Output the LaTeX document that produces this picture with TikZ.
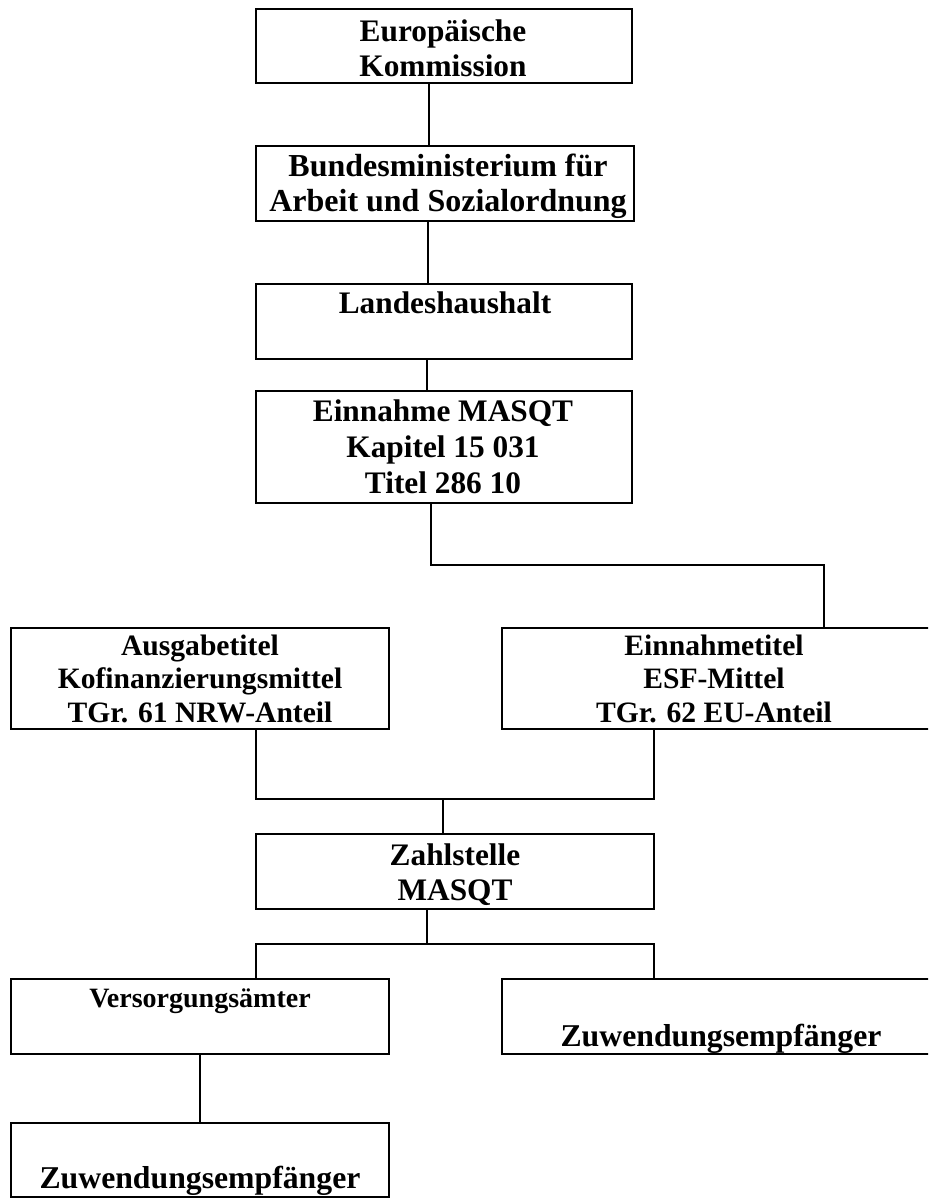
\documentclass[tikz,border=0pt]{standalone}
\usepackage{fontspec}
\setmainfont{Liberation Serif}
\begin{document}
\begin{tikzpicture}[x=0.75pt,y=-0.75pt,
  box/.style={draw=black,line width=1.1pt,inner sep=0pt,rectangle},
  conn/.style={draw=black,line width=0.9pt},
  txt/.style={anchor=base,align=center,inner sep=0pt,font=\fontsize{23.5}{26.25}\selectfont\bfseries},
  txtm/.style={anchor=base,align=center,inner sep=0pt,font=\fontsize{22.2}{25.1}\selectfont\bfseries}]
\useasboundingbox (0,0) rectangle (928,1199);
\clip (0,0) rectangle (928,1199);
% boxes
\node[box,minimum width=282pt,minimum height=55.5pt] (b1) at (444,46) {};
\node[box,minimum width=283.5pt,minimum height=56.25pt] (b2) at (445,183.5) {};
\node[box,minimum width=282pt,minimum height=56.25pt] (b3) at (444,321.5) {};
\node[box,minimum width=282pt,minimum height=84pt] (b4) at (444,447) {};
\node[box,minimum width=283.5pt,minimum height=75.75pt] (b5) at (200,678.5) {};
\node[box,minimum width=328.5pt,minimum height=75.75pt] (b6) at (721,678.5) {};
\node[box,minimum width=298.5pt,minimum height=56.25pt] (b7) at (455,871.5) {};
\node[box,minimum width=283.5pt,minimum height=56.25pt] (b8) at (200,1016.5) {};
\node[box,minimum width=328.5pt,minimum height=56.25pt] (b9) at (721,1016.5) {};
\node[box,minimum width=283.5pt,minimum height=55.5pt] (b10) at (200,1160) {};
% texts (anchor base = baseline of the last line)
\node[txt] (t1) at (443,76) {Europäische\\Kommission};
\node[txt,font=\fontsize{24}{26.25}\selectfont\bfseries] (t2) at (448,211) {Bundesministerium für\\Arbeit und Sozialordnung};
\node[txt] (t3) at (445,313) {Landeshaushalt};
\node[txt,font=\fontsize{23.5}{27}\selectfont\bfseries] (t4) at (443,493) {Einnahme MASQT\\Kapitel 15 031\\Titel 286 10};
\node[txtm] (t5) at (200,722) {Ausgabetitel\\Kofinanzierungsmittel\\TGr. 61 NRW-Anteil};
\node[txtm] (t6) at (714,722) {Einnahmetitel\\ESF-Mittel\\TGr. 62 EU-Anteil};
\node[txt] (t7) at (455,900) {Zahlstelle\\MASQT};
\node[txt,font=\fontsize{21}{24}\selectfont\bfseries] (t8) at (200,1007) {Versorgungsämter};
\node[txt,font=\fontsize{23.8}{26.25}\selectfont\bfseries] (t9) at (721,1046) {Zuwendungsempfänger};
\node[txt,font=\fontsize{23.8}{26.25}\selectfont\bfseries] (t10) at (200,1188) {Zuwendungsempfänger};
% junction coordinates
\coordinate (j1) at (824,565);
\coordinate (j2) at (443,799);
\coordinate (j3) at (427,944);
% connectors
\draw[conn] ([xshift=-11.25pt]b1.south) -- ([xshift=-11.25pt]b1.south |- b2.north);
\draw[conn] ([xshift=-12.75pt]b2.south) -- ([xshift=-12.75pt]b2.south |- b3.north);
\draw[conn] ([xshift=-12.75pt]b3.south) -- ([xshift=-12.75pt]b3.south |- b4.north);
\draw[conn] ([xshift=-9.75pt]b4.south) |- (j1) -- (j1 |- b6.north);
\draw[conn] ([xshift=42pt]b5.south) |- ([xshift=-50.25pt]b6.south |- j2) -- ([xshift=-50.25pt]b6.south);
\draw[conn] (j2) -- (j2 |- b7.north);
\draw[conn] ([xshift=-21pt]b7.south) -- (j3);
\draw[conn] ([xshift=42pt]b8.north) |- ([xshift=-50.25pt]b9.north |- j3) -- ([xshift=-50.25pt]b9.north);
\draw[conn] (b8.south) -- (b10.north);
\end{tikzpicture}
\end{document}
